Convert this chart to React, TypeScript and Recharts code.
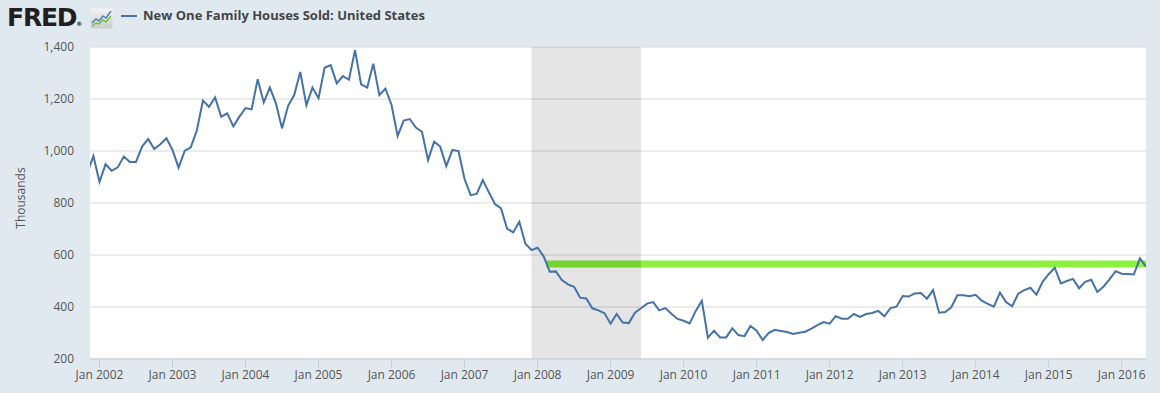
import React from 'react';
import {
  LineChart,
  Line,
  XAxis,
  YAxis,
  CartesianGrid,
  ReferenceArea,
  ReferenceLine,
} from 'recharts';

// month index on the x axis: 0 = Jan 2002
const firstMonth = -2; // series starts Nov 2001

// New one family houses sold, thousands (SAAR), Nov 2001 .. May 2016
const sales = [
  915, 981,
  881, 949, 924, 937, 979, 958, 958, 1017, 1046, 1008, 1026, 1049,
  1004, 936, 1000, 1014, 1079, 1194, 1170, 1206, 1132, 1145, 1095, 1132,
  1165, 1160, 1276, 1187, 1244, 1183, 1087, 1174, 1215, 1304, 1176, 1244,
  1203, 1320, 1330, 1260, 1288, 1274, 1388, 1256, 1244, 1336, 1215, 1240,
  1177, 1058, 1117, 1123, 1090, 1074, 965, 1036, 1017, 942, 1004, 1000,
  892, 830, 835, 888, 841, 796, 779, 701, 687, 728, 643, 619,
  628, 595, 536, 537, 504, 487, 478, 436, 433, 395, 387, 376,
  336, 373, 340, 338, 378, 395, 413, 419, 387, 396, 374, 354,
  347, 337, 385, 424, 282, 309, 283, 283, 318, 292, 288, 327,
  309, 273, 301, 312, 308, 304, 296, 301, 305, 317, 330, 342,
  336, 365, 355, 355, 373, 362, 373, 377, 385, 364, 396, 401,
  442, 440, 452, 454, 432, 465, 378, 381, 399, 445, 445, 441,
  447, 424, 412, 401, 455, 419, 403, 451, 465, 474, 447, 497,
  526, 551, 491, 500, 508, 472, 497, 505, 458, 478, 506, 538,
  528, 527, 525, 587, 555,
];

const tickYears = [2002, 2003, 2004, 2005, 2006, 2007, 2008, 2009, 2010, 2011, 2012, 2013, 2014, 2015, 2016];
const yTicks = [200, 400, 600, 800, 1000, 1200, 1400];
const xDomain = [-1.56, 172];

// recession shading Dec 2007 .. Jun 2009
const recession = [71, 89];

// horizontal marker drawn on the chart
const bandLevel = 565;
const bandStart = 73.5;

const data = sales.map((v, i) => ({ m: firstMonth + i, v }));
const xTicks = tickYears.map((y) => (y - 2002) * 12);

const tickStyle = { fill: '#555', fontSize: 12, fontFamily: 'Open Sans' };

const FredIcon = () => (
  <svg width={23} height={21} viewBox="0 0 23 21">
    <defs>
      <linearGradient id="ic" x1="0" y1="0" x2="0" y2="1">
        <stop offset="0" stopColor="#f4f4f4" />
        <stop offset="1" stopColor="#c9ccce" />
      </linearGradient>
    </defs>
    <rect x={0.5} y={0.5} width={22} height={20} rx={2} fill="url(#ic)" />
    <polyline points="2,15 6,11 9,13 13,8 16,10 21,3" fill="none" stroke="#4a7db5" strokeWidth={1.4} />
    <polyline points="2,18 6,15 9,16 13,12 16,14 21,8" fill="none" stroke="#6fbf3a" strokeWidth={1.4} />
  </svg>
);

export default function App() {
  return (
    <div
      style={{
        position: 'absolute',
        left: 0,
        top: 0,
        width: 1160,
        height: 393,
        background: '#e1e9f0',
        overflow: 'hidden',
      }}
    >
      <div
        style={{
          position: 'absolute',
          left: 7,
          top: 4,
          fontFamily: 'DejaVu Sans',
          fontWeight: 700,
          fontSize: 25,
          lineHeight: '27px',
          letterSpacing: -1.2,
          color: '#231f20',
        }}
      >
        FRED<span style={{ fontSize: 6, letterSpacing: 0 }}>®</span>
      </div>
      <div style={{ position: 'absolute', left: 90, top: 8 }}>
        <FredIcon />
      </div>
      <div style={{ position: 'absolute', left: 121, top: 15, width: 16, height: 2, background: '#4572a7' }} />
      <div
        style={{
          position: 'absolute',
          left: 143,
          top: 7,
          fontFamily: 'Open Sans',
          fontWeight: 700,
          fontSize: 13,
          lineHeight: '17px',
          color: '#444',
          whiteSpace: 'nowrap',
        }}
      >
        New One Family Houses Sold: United States
      </div>

      <LineChart width={1160} height={393} data={data} margin={{ top: 47, right: 14, bottom: 0, left: 0 }}>
        <CartesianGrid vertical={false} stroke="#d8d8d8" fill="#ffffff" />
        <XAxis
          dataKey="m"
          type="number"
          domain={xDomain}
          allowDataOverflow
          ticks={xTicks}
          tickFormatter={(m) => `Jan ${2002 + m / 12}`}
          height={34}
          stroke="#c3d1df"
          tickSize={9}
          tickMargin={2}
          tick={tickStyle}
        />
        <YAxis
          type="number"
          domain={[200, 1400]}
          ticks={yTicks}
          width={90}
          axisLine={false}
          tickLine={false}
          tickMargin={10}
          tick={tickStyle}
          tickFormatter={(v) => v.toLocaleString('en-US')}
          label={() => (
            <text
              x={25}
              y={198}
              textAnchor="middle"
              transform="rotate(-90, 25, 198)"
              fill="#555"
              fontSize={12}
              fontFamily="Open Sans"
            >
              Thousands
            </text>
          )}
        />
        <ReferenceArea x1={recession[0]} x2={recession[1]} fill="#000" fillOpacity={0.1} stroke="none" />
        <ReferenceLine
          segment={[{ x: bandStart, y: bandLevel }, { x: recession[1], y: bandLevel }]}
          stroke="#74d42f"
          strokeWidth={7}
        />
        <ReferenceLine
          segment={[{ x: recession[1], y: bandLevel }, { x: xDomain[1], y: bandLevel }]}
          stroke="#8ef03f"
          strokeWidth={7}
        />
        <Line
          type="linear"
          dataKey="v"
          stroke="#4572a7"
          strokeWidth={2}
          dot={false}
          activeDot={false}
          isAnimationActive={false}
        />
      </LineChart>
    </div>
  );
}
